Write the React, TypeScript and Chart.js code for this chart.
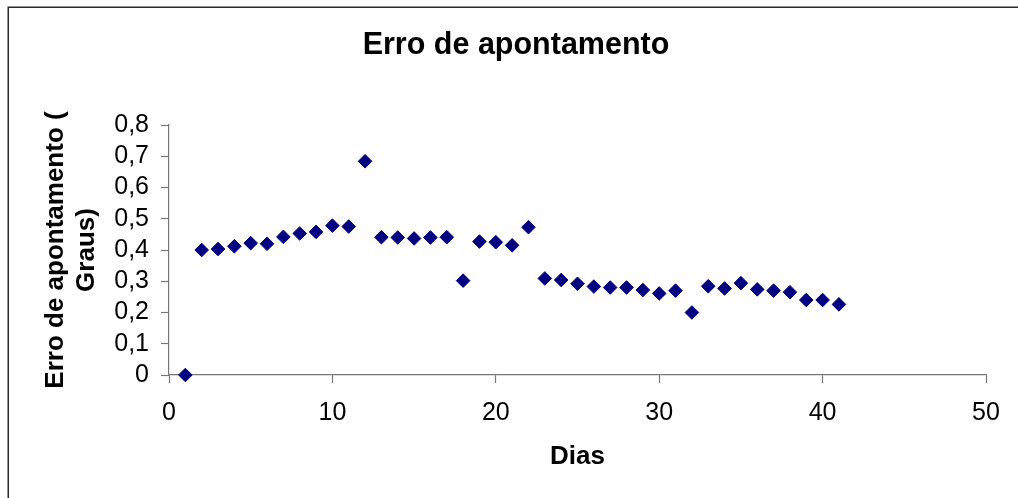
import { useEffect, useRef } from 'react';
import { Chart, registerables } from 'chart.js';

Chart.register(...registerables);

// Chart texts
const chartTitle = 'Erro de apontamento';
const xAxisTitle = 'Dias';
const yAxisTitle = ['Erro de apontamento (', 'Graus)'];

// Day of each measurement
const days = [
  1, 2, 3, 4, 5, 6, 7, 8, 9, 10,
  11, 12, 13, 14, 15, 16, 17, 18, 19, 20,
  21, 22, 23, 24, 25, 26, 27, 28, 29, 30,
  31, 32, 33, 34, 35, 36, 37, 38, 39, 40,
  41,
];

// Pointing error (degrees) for each day
const pointingError = [
  0, 0.4, 0.403, 0.412, 0.422, 0.42, 0.442, 0.453, 0.458, 0.478,
  0.475, 0.684, 0.441, 0.44, 0.437, 0.44, 0.441, 0.302, 0.427, 0.425,
  0.415, 0.473, 0.309, 0.304, 0.292, 0.283, 0.28, 0.28, 0.272, 0.261,
  0.27, 0.2, 0.284, 0.277, 0.294, 0.274, 0.27, 0.265, 0.24, 0.24,
  0.226,
];

// Axis ranges
const xRange = { min: 0, max: 50, step: 10 };
const yRange = { min: 0, max: 0.8, step: 0.1 };

const FONT = '"Liberation Sans", Arial, Helvetica, sans-serif';
const MARKER = '#000080';
const AXIS = '#777777';

const framePlugin = {
  id: 'frameAndTitle',
  beforeDraw(chart: any) {
    const { ctx, width, height } = chart;
    ctx.save();
    ctx.fillStyle = '#ffffff';
    ctx.fillRect(0, 0, width, height);
    ctx.strokeStyle = '#2a2a2a';
    ctx.lineWidth = 1.5;
    ctx.beginPath();
    ctx.moveTo(8.25, height + 2);
    ctx.lineTo(8.25, 7.25);
    ctx.lineTo(width + 2, 7.25);
    ctx.stroke();
    ctx.restore();
  },
  afterDraw(chart: any) {
    const { ctx } = chart;
    ctx.save();
    ctx.fillStyle = '#000000';
    ctx.font = `bold 30.5px ${FONT}`;
    ctx.textAlign = 'center';
    ctx.textBaseline = 'alphabetic';
    ctx.fillText(chartTitle, 516, 53.5);
    ctx.restore();
  },
};

function formatTick(v: number): string {
  if (Math.abs(v) < 1e-9) return '0';
  return v.toFixed(1).replace('.', ',');
}

export default function App() {
  const canvasRef = useRef<HTMLCanvasElement | null>(null);

  useEffect(() => {
    const canvas = canvasRef.current;
    if (!canvas) return;
    const points = days.map((d, i) => ({ x: d, y: pointingError[i] }));

    const chart = new Chart(canvas, {
      type: 'scatter',
      data: {
        datasets: [
          {
            label: 'Erro de apontamento',
            data: points,
            pointStyle: 'rectRot',
            pointRadius: 6.8,
            pointBackgroundColor: MARKER,
            pointBorderColor: MARKER,
            pointBorderWidth: 1,
            showLine: false,
            clip: false,
          },
        ],
      },
      plugins: [framePlugin],
      options: {
        animation: false,
        responsive: false,
        devicePixelRatio: 1,
        layout: { padding: { top: 125, right: 32, bottom: 0, left: 0 } },
        plugins: {
          legend: { display: false },
          title: { display: false },
          tooltip: { enabled: false },
        },
        scales: {
          x: {
            type: 'linear',
            min: xRange.min,
            max: xRange.max,
            afterFit: (scale: any) => {
              scale.height = 123;
            },
            ticks: {
              stepSize: xRange.step,
              autoSkip: false,
              color: '#000000',
              font: { family: FONT, size: 25 },
              padding: 15,
              maxRotation: 0,
              callback: (v: any) => String(v),
            },
            grid: {
              display: true,
              drawOnChartArea: false,
              drawTicks: true,
              tickLength: 8,
              tickColor: AXIS,
              tickWidth: 1.2,
            },
            border: { display: true, color: AXIS, width: 1.2 },
            title: {
              display: true,
              text: xAxisTitle,
              color: '#000000',
              font: { family: FONT, size: 26, weight: 'bold', lineHeight: 1.2 },
              padding: { top: 0, bottom: 25.5 },
            },
          },
          y: {
            type: 'linear',
            min: yRange.min,
            max: yRange.max,
            afterFit: (scale: any) => {
              scale.width = 169;
            },
            ticks: {
              stepSize: yRange.step,
              autoSkip: false,
              color: '#000000',
              font: { family: FONT, size: 25 },
              padding: 12,
              callback: (v: any) => formatTick(Number(v)),
            },
            grid: {
              display: true,
              drawOnChartArea: false,
              drawTicks: true,
              tickLength: 8,
              tickColor: AXIS,
              tickWidth: 1.2,
            },
            border: { display: true, color: AXIS, width: 1.2 },
            title: {
              display: true,
              text: yAxisTitle,
              color: '#000000',
              font: { family: FONT, size: 26, weight: 'bold', lineHeight: 1.2 },
              padding: { top: 40, bottom: 0 },
            },
          },
        },
      },
    } as any);

    return () => {
      chart.destroy();
    };
  }, []);

  return (
    <div
      style={{
        position: 'fixed',
        left: 0,
        top: 0,
        width: 1018,
        height: 498,
        overflow: 'hidden',
        background: '#ffffff',
      }}
    >
      <canvas ref={canvasRef} width={1018} height={498} style={{ width: 1018, height: 498, display: 'block' }} />
    </div>
  );
}
